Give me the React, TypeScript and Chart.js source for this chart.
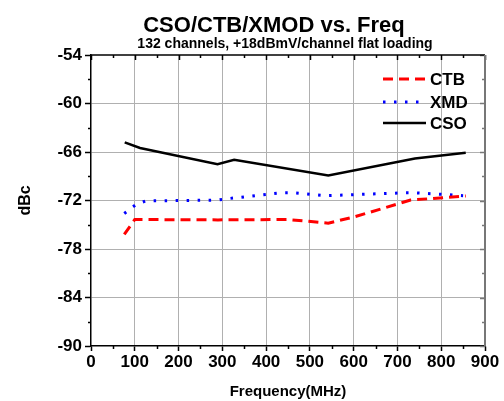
import React, { useEffect, useRef } from "react";
import { Chart, registerables } from "chart.js";

Chart.register(...registerables);

const FONT = "'Liberation Sans', Arial, Helvetica, sans-serif";

const titleText = "CSO/CTB/XMOD vs. Freq";
const subtitleText = "132 channels, +18dBmV/channel flat loading";
const xTitle = "Frequency(MHz)";
const yTitle = "dBc";

const ctbFreq = [76, 100, 290, 450, 542, 600, 730, 780, 856];
const ctbVal = [-76.2, -74.35, -74.4, -74.35, -74.8, -74.05, -71.95, -71.75, -71.45];

const xmdFreq = [76, 103, 125, 290, 308, 384, 435, 461, 537, 614, 717, 742, 820, 850];
const xmdVal = [-73.6, -72.5, -72.05, -71.95, -71.8, -71.35, -71.05, -71.05, -71.4, -71.25, -71.05, -71.05, -71.3, -71.4];

const csoFreq = [77, 112, 289, 327, 542, 740, 856];
const csoVal = [-64.8, -65.5, -67.5, -66.95, -68.9, -66.8, -66.1];

const seriesNames = ["CTB", "XMD", "CSO"];

const xMin = 0, xMax = 900, xStep = 100;
const yMin = -90, yMax = -54, yStep = 6;

const toPoints = (xs: number[], ys: number[]) => xs.map((x, i) => ({ x, y: ys[i] }));

const decorPlugin = {
  id: "decor",
  afterDraw(chart: any) {
    const { ctx, chartArea } = chart;
    const { left, right, top, bottom } = chartArea;
    const xs = chart.scales.x;
    const ys = chart.scales.y;
    ctx.save();
    ctx.lineWidth = 1.5;
    ctx.strokeStyle = "#000";
    for (let v = yMin; v <= yMax + 0.001; v += yStep / 2) {
      const py = Math.round(ys.getPixelForValue(v)) + 0.5;
      const major = Math.abs((v - yMin) % yStep) < 0.001;
      if (!major) {
        ctx.beginPath();
        ctx.moveTo(left - 3, py);
        ctx.lineTo(left, py);
        ctx.stroke();
      }
      ctx.save();
      ctx.strokeStyle = "#777";
      ctx.beginPath();
      ctx.moveTo(right, py);
      ctx.lineTo(right - (major ? 5 : 3), py);
      ctx.stroke();
      ctx.restore();
    }
    for (let v = xMin; v <= xMax + 0.001; v += xStep / 2) {
      const px = Math.round(xs.getPixelForValue(v)) + 0.5;
      const major = Math.abs((v - xMin) % xStep) < 0.001;
      if (!major) {
        ctx.beginPath();
        ctx.moveTo(px, bottom);
        ctx.lineTo(px, bottom + 3);
        ctx.stroke();
      }
      ctx.beginPath();
      ctx.moveTo(px, top);
      ctx.lineTo(px, top + (major ? 5 : 3));
      ctx.stroke();
    }
    ctx.beginPath();
    ctx.moveTo(left, top);
    ctx.lineTo(right, top);
    ctx.stroke();
    ctx.strokeStyle = "#777";
    ctx.lineWidth = 2;
    ctx.beginPath();
    ctx.moveTo(right, top);
    ctx.lineTo(right, bottom);
    ctx.stroke();

    ctx.fillStyle = "#000";
    ctx.textAlign = "center";
    ctx.textBaseline = "alphabetic";
    ctx.font = `bold 22px ${FONT}`;
    ctx.fillText(titleText, 274, 32);
    ctx.font = `bold 14px ${FONT}`;
    ctx.fillText(subtitleText, 285, 48);

    const legY = [79, 102, 123];
    chart.data.datasets.forEach((ds: any, i: number) => {
      ctx.save();
      ctx.strokeStyle = ds.borderColor;
      ctx.lineWidth = ds.borderWidth;
      ctx.lineCap = ds.borderCapStyle || "butt";
      ctx.setLineDash(ds.borderDash || []);
      ctx.beginPath();
      ctx.moveTo(383, legY[i]);
      ctx.lineTo(426, legY[i]);
      ctx.stroke();
      ctx.restore();
      ctx.save();
      ctx.fillStyle = "#000";
      ctx.font = `bold 17px ${FONT}`;
      ctx.textAlign = "left";
      ctx.textBaseline = "middle";
      ctx.fillText(ds.label, 430, legY[i] + 1);
      ctx.restore();
    });
    ctx.restore();
  },
};

export default function App() {
  const ref = useRef<HTMLCanvasElement>(null);
  useEffect(() => {
    if (!ref.current) return;
    const chart = new Chart(ref.current, {
      type: "line",
      data: {
        datasets: [
          {
            label: seriesNames[0],
            data: toPoints(ctbFreq, ctbVal),
            borderColor: "#ff0000",
            borderWidth: 3,
            borderDash: [10, 6],
            pointRadius: 0,
            tension: 0,
          },
          {
            label: seriesNames[1],
            data: toPoints(xmdFreq, xmdVal),
            borderColor: "#0000ff",
            borderWidth: 3,
            borderDash: [2.5, 8.5],
            pointRadius: 0,
            tension: 0,
          },
          {
            label: seriesNames[2],
            data: toPoints(csoFreq, csoVal),
            borderColor: "#000000",
            borderWidth: 2.5,
            pointRadius: 0,
            tension: 0,
          },
        ],
      },
      options: {
        animation: false,
        responsive: true,
        maintainAspectRatio: false,
        layout: { padding: { left: 0, top: 55, right: 19, bottom: 0 } },
        plugins: {
          legend: { display: false },
          title: { display: false },
          tooltip: { enabled: false },
        },
        scales: {
          x: {
            type: "linear",
            min: xMin,
            max: xMax,
            ticks: {
              stepSize: xStep,
              font: { family: FONT, size: 17, weight: "bold" },
              color: "#000",
              padding: 1,
              maxRotation: 0,
            },
            grid: {
              color: (c: any) => (c.tick && (c.tick.value === xMin || c.tick.value === xMax) ? "rgba(0,0,0,0)" : "#b0b0b0"),
              borderDash: [1, 2],
              lineWidth: 1,
              tickLength: 5,
              tickColor: "#000",
              tickWidth: 1.5,
              tickBorderDash: [],
            },
            border: { display: true, color: "#000", width: 1.5 },
            title: {
              display: true,
              text: xTitle,
              font: { family: FONT, size: 15, weight: "bold" },
              color: "#000",
              padding: { top: 0, bottom: 0 },
            },
            afterFit: (axis: any) => {
              axis.height = 55;
            },
          },
          y: {
            min: yMin,
            max: yMax,
            ticks: {
              stepSize: yStep,
              font: { family: FONT, size: 17, weight: "bold" },
              color: "#000",
              padding: 3,
            },
            grid: {
              color: (c: any) => (c.tick && (c.tick.value === yMin || c.tick.value === yMax) ? "rgba(0,0,0,0)" : "#b0b0b0"),
              borderDash: [1, 2],
              lineWidth: 1,
              tickLength: 6,
              tickColor: "#000",
              tickWidth: 1.5,
              tickBorderDash: [],
            },
            border: { display: true, color: "#000", width: 1.5 },
            title: {
              display: true,
              text: yTitle,
              font: { family: FONT, size: 16, weight: "bold" },
              color: "#000",
              padding: { top: 16, bottom: 0 },
            },
            afterFit: (axis: any) => {
              axis.width = 91;
            },
          },
        },
      },
      plugins: [decorPlugin],
    });
    return () => chart.destroy();
  }, []);
  return (
    <div style={{ position: "fixed", left: 0, top: 0, width: 504, height: 401, background: "#fff" }}>
      <canvas ref={ref} />
    </div>
  );
}
